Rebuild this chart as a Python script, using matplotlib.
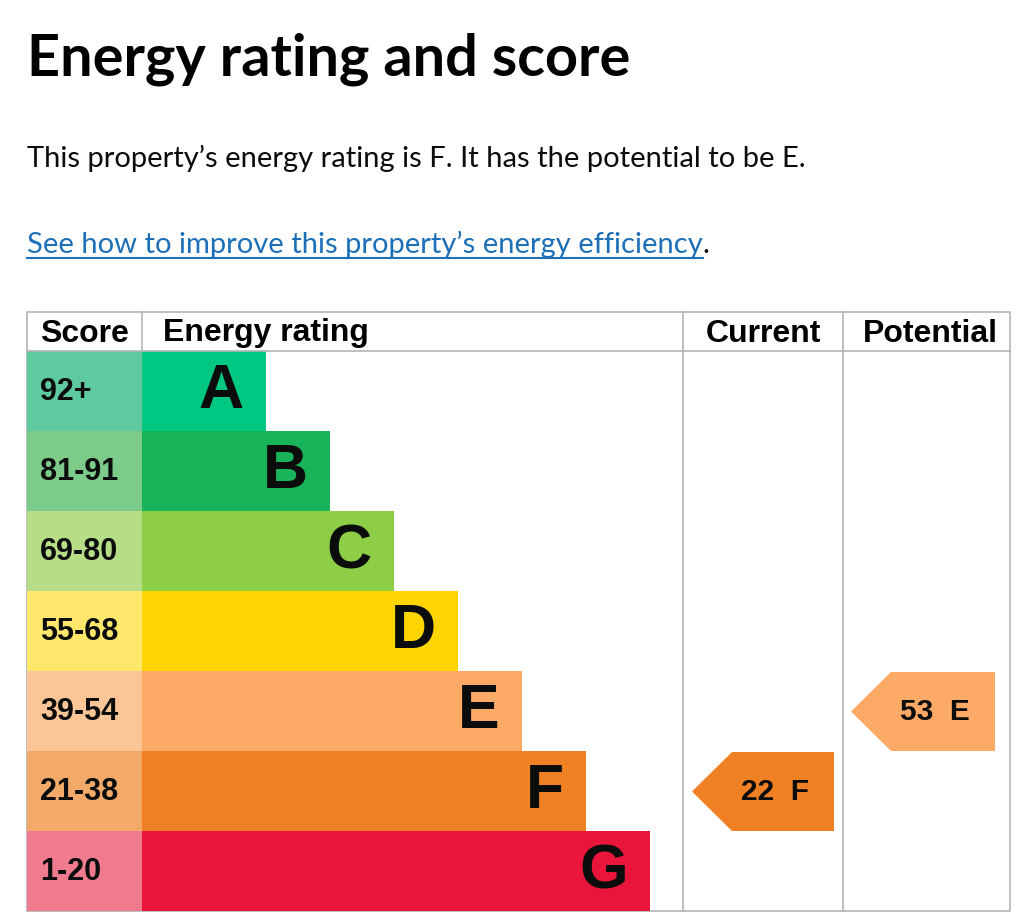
import matplotlib
matplotlib.use('Agg')
import matplotlib.pyplot as plt
from matplotlib.patches import Rectangle, Polygon

# Data
bands = ['A', 'B', 'C', 'D', 'E', 'F', 'G']
score_ranges = ['92+', '81-91', '69-80', '55-68', '39-54', '21-38', '1-20']
bar_colors = ['#00c781', '#19b459', '#8dce46', '#ffd500', '#fcaa65', '#ef8023', '#e9153b']
score_colors = ['#5fc9a0', '#7ccb8a', '#b5de86', '#fee76a', '#fcc596', '#f2a96a', '#f07b8e']
current_score, current_band = 22, 'F'
potential_score, potential_band = 53, 'E'

title = 'Energy rating and score'
summary = 'This property\u2019s energy rating is F. It has the potential to be E.'
link = 'See how to improve this property\u2019s energy efficiency'

# Layout (pixels)
W, H = 1024, 923
left, right = 27, 1010
top, header_h, row_h = 312, 39, 80
col_score, col_rating, col_current = 142, 683, 843
bar_start, bar_first, bar_step = 142, 266, 64
grey = '#b1b4b6'

fig = plt.figure(figsize=(W / 100, H / 100), dpi=100)
ax = fig.add_axes([0, 0, 1, 1])
ax.set_xlim(0, W)
ax.set_ylim(H, 0)
ax.axis('off')

# Heading and text
ax.text(left, 75, title, fontsize=41.5, fontweight='bold', family='Lato', va='baseline')
ax.text(left, 167, summary, fontsize=21, family='Lato', va='baseline', color='#0b0c0c')
link_txt = ax.text(left, 253, link, fontsize=21, family='Lato', va='baseline', color='#1d70b8')
fig.canvas.draw()
bb = link_txt.get_window_extent().transformed(ax.transData.inverted())
x0, x1 = sorted([bb.x0, bb.x1])
ax.plot([x0, x1], [258, 258], color='#1d70b8', lw=1.5)
ax.text(x1, 253, '.', fontsize=21, family='Lato', va='baseline', color='#0b0c0c')

# Table frame
table_bottom = top + header_h + row_h * len(bands)
ax.add_patch(Rectangle((left, top), right - left, table_bottom - top,
                       fill=False, edgecolor=grey, lw=1.2))
ax.plot([left, right], [top + header_h] * 2, color=grey, lw=1.2)
ax.plot([col_score, col_score], [top, top + header_h], color=grey, lw=1.2)
for cx in [col_rating, col_current]:
    ax.plot([cx, cx], [top, table_bottom], color=grey, lw=1.2)

# Header labels
hy = top + header_h / 2 + 2
hfont = dict(fontsize=23, fontweight='bold', family='Liberation Sans', va='center')
ax.text(40, hy, 'Score', **hfont)
ax.text(163, hy, 'Energy rating', **hfont)
ax.text((col_rating + col_current) / 2, hy, 'Current', ha='center', **hfont)
ax.text((col_current + right) / 2 + 4, hy, 'Potential', ha='center', **hfont)

# Rows
for i, band in enumerate(bands):
    y0 = top + header_h + i * row_h
    yc = y0 + row_h / 2
    bar_end = bar_first + i * bar_step
    ax.add_patch(Rectangle((left, y0), col_score - left, row_h, color=score_colors[i], lw=0))
    ax.add_patch(Rectangle((bar_start, y0), bar_end - bar_start, row_h, color=bar_colors[i], lw=0))
    ax.text(40, yc + 1, score_ranges[i], fontsize=22, fontweight='bold',
            family='Liberation Sans', va='center', color='#0b0c0c')
    ax.text(bar_end - 22, yc + 1, band, fontsize=45, fontweight='bold',
            family='Liberation Sans', va='center', ha='right', color='#0b0c0c')


def draw_arrow(score, band, x_left, x_right):
    i = bands.index(band)
    y0 = top + header_h + i * row_h + 1
    y1 = y0 + row_h - 1
    yc = (y0 + y1) / 2
    shoulder = x_left + 40
    ax.add_patch(Polygon([(x_left, yc), (shoulder, y0), (x_right, y0),
                          (x_right, y1), (shoulder, y1)], closed=True,
                         color=bar_colors[i], lw=0))
    ax.text(x_right - 25, yc + 1, f'{score}  {band}', fontsize=21.5, fontweight='bold',
            family='Liberation Sans', va='center', ha='right', color='#0b0c0c')


draw_arrow(current_score, current_band, col_rating + 9, col_current - 9)
draw_arrow(potential_score, potential_band, col_current + 8, right - 15)

fig.savefig('out.png', dpi=100)
